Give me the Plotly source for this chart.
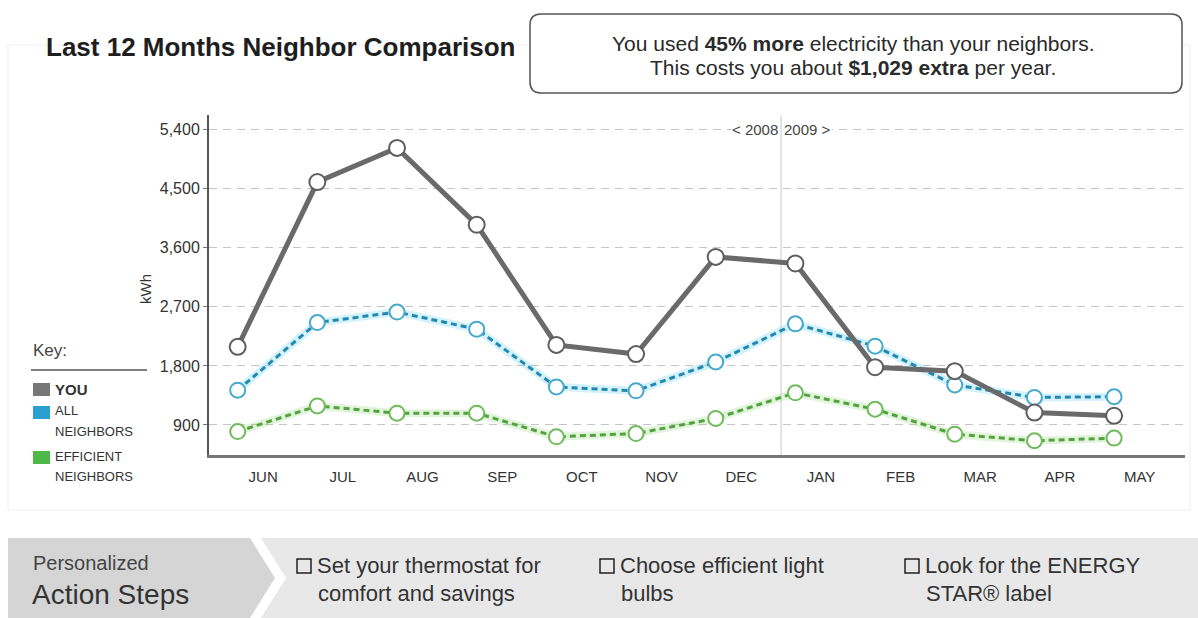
import plotly.graph_objects as go

# ---------------- data ----------------
months = ["JUN", "JUL", "AUG", "SEP", "OCT", "NOV", "DEC", "JAN", "FEB", "MAR", "APR", "MAY"]
you_kwh = [2090, 4600, 5120, 3950, 2120, 1980, 3460, 3360, 1780, 1720, 1090, 1040]
all_neighbors_kwh = [1430, 2460, 2620, 2360, 1480, 1420, 1860, 2440, 2100, 1510, 1320, 1330]
efficient_neighbors_kwh = [800, 1190, 1080, 1080, 720, 770, 1000, 1390, 1140, 760, 660, 700]
y_tick_values = [900, 1800, 2700, 3600, 4500, 5400]
y_tick_labels = ["900", "1,800", "2,700", "3,600", "4,500", "5,400"]

# ---------------- geometry helpers ----------------
W, H = 1198, 618
L, R, T, B = 209, 1185, 115, 455
FONT = "Liberation Sans, Arial, Helvetica, sans-serif"


def px(x):
    return (x - L) / (R - L)


def py(y):
    return (B - y) / (B - T)


point_shift = 0.32
xs = [i - point_shift for i in range(len(months))]

GRAY = "#6a6a6a"
BLUE = "#2388b0"
GREEN = "#52a23d"

fig = go.Figure()

# glow lines
fig.add_trace(go.Scatter(x=xs, y=efficient_neighbors_kwh, mode="lines",
                         line=dict(color="rgba(150,220,130,0.28)", width=8),
                         hoverinfo="skip"))
fig.add_trace(go.Scatter(x=xs, y=all_neighbors_kwh, mode="lines",
                         line=dict(color="rgba(120,215,245,0.32)", width=8),
                         hoverinfo="skip"))

fig.add_trace(go.Scatter(x=xs, y=efficient_neighbors_kwh, mode="lines+markers",
                         name="EFFICIENT NEIGHBORS",
                         line=dict(color=GREEN, width=3, dash="6px,4px"),
                         marker=dict(size=15, color="white",
                                     line=dict(color="#6fbb5c", width=2))))
fig.add_trace(go.Scatter(x=xs, y=all_neighbors_kwh, mode="lines+markers",
                         name="ALL NEIGHBORS",
                         line=dict(color=BLUE, width=3, dash="6px,4px"),
                         marker=dict(size=15, color="white",
                                     line=dict(color="#45a9cc", width=2))))
fig.add_trace(go.Scatter(x=xs, y=you_kwh, mode="lines+markers", name="YOU",
                         line=dict(color=GRAY, width=5),
                         marker=dict(size=16, color="white",
                                     line=dict(color="#5e5e5e", width=2))))

shapes = []
annotations = []

# faint panel border
shapes.append(dict(type="rect", xref="paper", yref="paper",
                   x0=px(8), x1=px(1190), y0=py(510), y1=py(45),
                   line=dict(color="#efefef", width=1), layer="below"))

# year divider
shapes.append(dict(type="line", xref="x", yref="paper", x0=6.5, x1=6.5, y0=0, y1=1,
                   line=dict(color="#c9c9c9", width=1), layer="below"))
annotations.append(dict(x=6.5, xref="x", y=py(129), yref="paper", text="< 2008",
                        showarrow=False, xanchor="right", yanchor="middle", xshift=-2,
                        font=dict(family=FONT, size=15, color="#444"),
                        bgcolor="white", borderpad=0))
annotations.append(dict(x=6.5, xref="x", y=py(129), yref="paper", text="2009 >",
                        showarrow=False, xanchor="left", yanchor="middle", xshift=2,
                        font=dict(family=FONT, size=15, color="#444"),
                        bgcolor="white", borderpad=0))

# kWh label
annotations.append(dict(x=px(145), y=py(289), xref="paper", yref="paper", text="kWh",
                        textangle=-90, showarrow=False, xanchor="center", yanchor="middle",
                        font=dict(family=FONT, size=15, color="#333")))

# title
annotations.append(dict(x=px(44), y=py(47), xref="paper", yref="paper",
                        text="<b>Last 12 Months Neighbor Comparison</b>",
                        showarrow=False, xanchor="left", yanchor="middle",
                        font=dict(family=FONT, size=26, color="#1e1e1e")))

# rounded info box
x0b, x1b, y0b, y1b, r = 530, 1182, 14, 93, 11


def P(x, y):
    return f"{px(x):.5f},{py(y):.5f}"


box_path = (f"M {P(x0b + r, y0b)} L {P(x1b - r, y0b)} Q {P(x1b, y0b)} {P(x1b, y0b + r)} "
            f"L {P(x1b, y1b - r)} Q {P(x1b, y1b)} {P(x1b - r, y1b)} "
            f"L {P(x0b + r, y1b)} Q {P(x0b, y1b)} {P(x0b, y1b - r)} "
            f"L {P(x0b, y0b + r)} Q {P(x0b, y0b)} {P(x0b + r, y0b)} Z")
shapes.append(dict(type="path", xref="paper", yref="paper", path=box_path,
                   line=dict(color="#555", width=1.5), fillcolor="white"))
annotations.append(dict(x=px(853), y=py(43), xref="paper", yref="paper",
                        text="You used <b>45% more</b> electricity than your neighbors.",
                        showarrow=False, xanchor="center", yanchor="middle",
                        font=dict(family=FONT, size=21, color="#2a2a2a")))
annotations.append(dict(x=px(853), y=py(67), xref="paper", yref="paper",
                        text="This costs you about <b>$1,029 extra</b> per year.",
                        showarrow=False, xanchor="center", yanchor="middle",
                        font=dict(family=FONT, size=21, color="#2a2a2a")))

# key / legend
annotations.append(dict(x=px(31), y=py(350), xref="paper", yref="paper", text="Key:",
                        showarrow=False, xanchor="left", yanchor="middle",
                        font=dict(family=FONT, size=17, color="#444")))
shapes.append(dict(type="line", xref="paper", yref="paper", x0=px(31), x1=px(147),
                   y0=py(370), y1=py(370), line=dict(color="#555", width=1.5)))
key_items = [
    ("#777777", 383, [("<b>YOU</b>", 389, 15)]),
    ("#2a9fd0", 406, [("ALL", 410, 13), ("NEIGHBORS", 431, 13)]),
    ("#4cb847", 451, [("EFFICIENT", 456, 13), ("NEIGHBORS", 476, 13)]),
]
for color, ytop, texts in key_items:
    shapes.append(dict(type="rect", xref="paper", yref="paper", x0=px(33), x1=px(50),
                       y0=py(ytop + 13), y1=py(ytop), line=dict(width=0), fillcolor=color))
    for t, yy, sz in texts:
        annotations.append(dict(x=px(53), y=py(yy), xref="paper", yref="paper", text=t,
                                showarrow=False, xanchor="left", yanchor="middle",
                                font=dict(family=FONT, size=sz, color="#333")))

# bottom action-steps banner
def poly(pts):
    return "M " + " L ".join(P(x, y) for x, y in pts) + " Z"


shapes.append(dict(type="path", xref="paper", yref="paper",
                   path=poly([(8, 538), (250, 538), (275, 578), (250, 618), (8, 618)]),
                   line=dict(width=0), fillcolor="#d5d5d5"))
shapes.append(dict(type="path", xref="paper", yref="paper",
                   path=poly([(261, 538), (1198, 538), (1198, 618), (261, 618), (286, 578)]),
                   line=dict(width=0), fillcolor="#e8e8e8"))
annotations.append(dict(x=px(31), y=py(563), xref="paper", yref="paper", text="Personalized",
                        showarrow=False, xanchor="left", yanchor="middle",
                        font=dict(family=FONT, size=20, color="#444")))
annotations.append(dict(x=px(30), y=py(594), xref="paper", yref="paper", text="Action Steps",
                        showarrow=False, xanchor="left", yanchor="middle",
                        font=dict(family=FONT, size=28, color="#333")))
steps = [
    (297, "Set your thermostat for", "comfort and savings"),
    (600, "Choose efficient light", "bulbs"),
    (905, "Look for the ENERGY", "STAR® label"),
]
for xb, l1, l2 in steps:
    shapes.append(dict(type="rect", xref="paper", yref="paper", x0=px(xb), x1=px(xb + 14),
                       y0=py(573), y1=py(559), line=dict(color="#222", width=1.5),
                       fillcolor="rgba(0,0,0,0)"))
    annotations.append(dict(x=px(xb + 18), y=py(565), xref="paper", yref="paper", text=l1,
                            showarrow=False, xanchor="left", yanchor="middle",
                            font=dict(family=FONT, size=22, color="#333")))
    annotations.append(dict(x=px(xb + 19), y=py(593), xref="paper", yref="paper", text=l2,
                            showarrow=False, xanchor="left", yanchor="middle",
                            font=dict(family=FONT, size=22, color="#333")))

fig.update_layout(
    width=W, height=H,
    margin=dict(l=L, r=W - R, t=T, b=H - B, pad=0),
    paper_bgcolor="white", plot_bgcolor="white",
    showlegend=False,
    font=dict(family=FONT, color="#333"),
    shapes=shapes, annotations=annotations,
    xaxis=dict(range=[-0.68, 11.57], tickmode="array", tickvals=list(range(len(months))),
               ticktext=months, showgrid=False, zeroline=False, showline=True,
               linecolor="#777", linewidth=3, ticks="", ticklabelstandoff=6,
               tickfont=dict(family=FONT, size=15, color="#333")),
    yaxis=dict(range=[443, 5621], tickmode="array", tickvals=y_tick_values,
               ticktext=y_tick_labels, showgrid=True, gridcolor="#c4c4c4",
               griddash="8px,6px", gridwidth=1, zeroline=False, showline=True,
               linecolor="#555", linewidth=2, ticks="outside", ticklen=4,
               tickcolor="#777", tickfont=dict(family=FONT, size=16, color="#333")),
)

fig.write_html("out.html")
